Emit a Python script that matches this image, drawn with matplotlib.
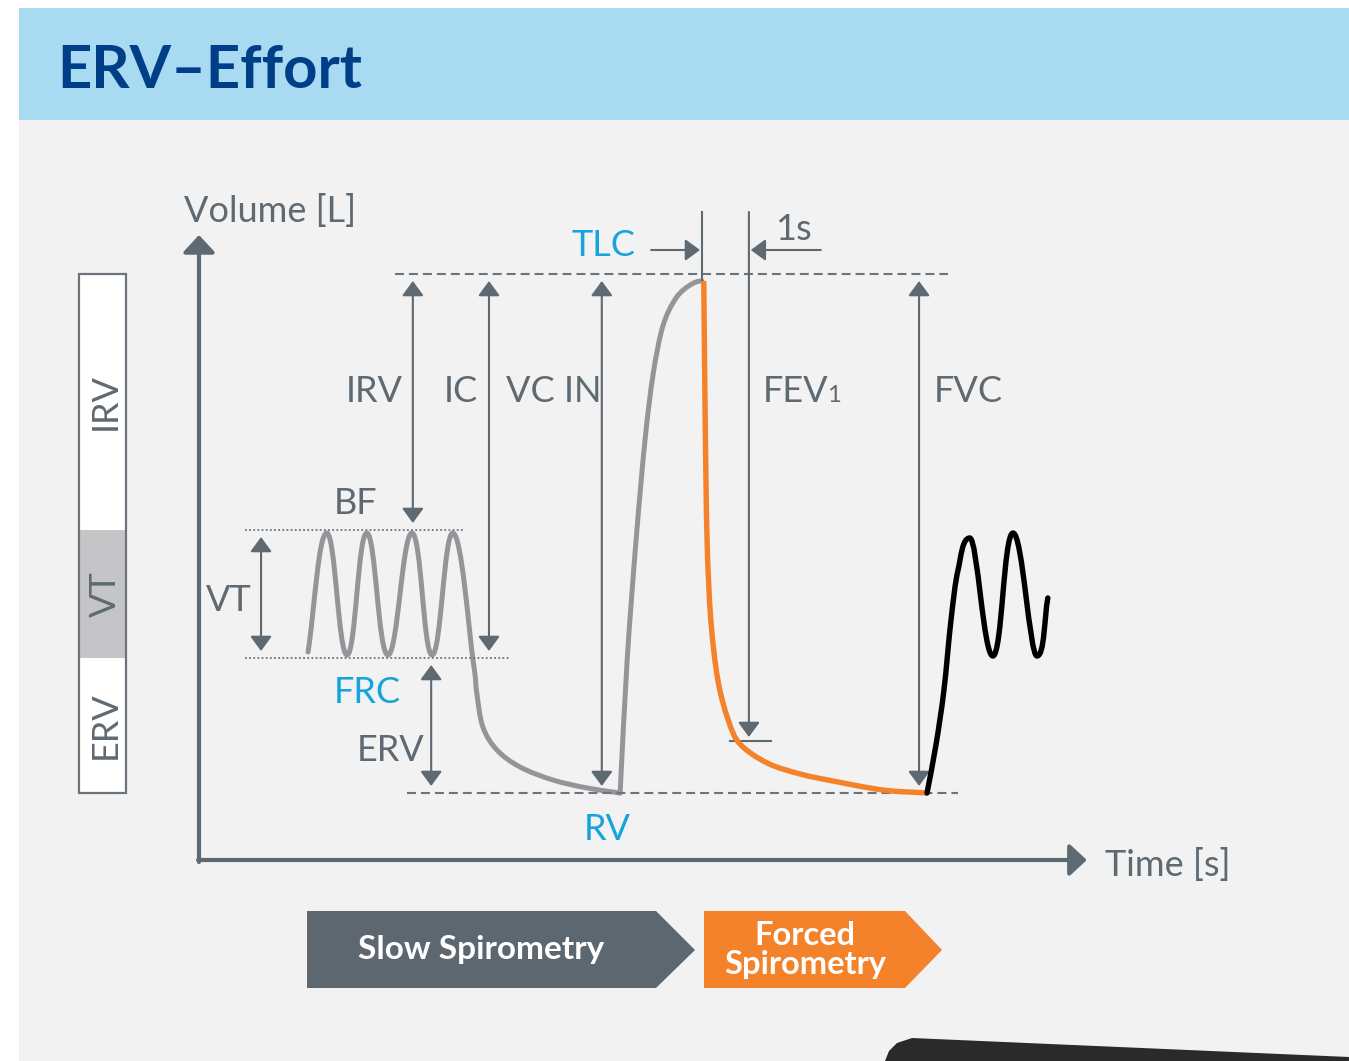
"""
ERV-Effort spirometry schematic.
Time axis in seconds (1 s = the TLC->FEV1 gap), volume axis in litres.
"""
import numpy as np
import matplotlib
matplotlib.use("Agg")
import matplotlib.pyplot as plt
from matplotlib.path import Path
from matplotlib.patches import PathPatch, Rectangle, Polygon

plt.rcParams["font.family"] = ["Lato", "DejaVu Sans"]

# ---- lung volume levels (L) ----
V_TLC = 5.86
V_VT_TOP = 3.30
V_FRC = 2.02
V_RV = 0.67

# ---- key moments (s) ----
T_TLC = 10.70
T_FEV1 = T_TLC + 1.0

# ---- slow spirometry: tidal breathing + slow full expiration (grey) ----
slow_exp_t = [2.32, 2.72, 3.15, 3.57, 4.02, 4.53, 4.96, 5.40,
              5.83, 5.91, 6.04, 6.34, 6.83, 7.53, 8.26, 8.96]
slow_exp_v = [2.08, 3.27, 2.05, 3.27, 2.05, 3.27, 2.05, 3.27,
              2.00, 1.67, 1.33, 1.10, 0.93, 0.80, 0.72, 0.67]

# ---- full inspiration up to TLC (grey) ----
insp_t = [8.96, 9.11, 9.30, 9.49, 9.66, 9.87, 10.15, 10.45, 10.70]
insp_v = [0.67, 2.00, 3.20, 4.20, 4.85, 5.34, 5.62, 5.75, 5.79]

# ---- forced expiration (orange) ----
forced_t = [10.74, 10.77, 10.81, 10.89, 11.04, 11.26, 11.51,
            12.09, 12.79, 13.49, 14.55, 15.49]
forced_v = [5.79, 4.40, 3.20, 2.40, 1.80, 1.40, 1.16,
            0.97, 0.86, 0.79, 0.70, 0.67]

# ---- recovery breathing (black) ----
recov_t = [15.49, 15.68, 15.85, 16.00, 16.15, 16.40, 16.89, 17.32, 17.83, 18.06]
recov_v = [0.67, 1.15, 1.70, 2.40, 2.90, 3.22, 2.04, 3.27, 2.04, 2.62]

FEV1_V = 1.19

GREY = "#5e6971"
CURVE_GREY = "#939598"
ORANGE = "#f4822a"
BLUE = "#17a3dc"
NAVY = "#003f88"

# pixel <-> data mapping: origin of the axes at (199, 860), 47 px per s, 100 px per L
W, H = 1349, 1061
X0, Y0, PX_S, PX_L = 199, 860, 47.0, 100.0


def smooth_path(t, v, flat_end=False):
    """Hermite spline through the nodes; local extremes get flat, rounded tangents."""
    p = np.column_stack([t, v]).astype(float)
    n = len(p)
    tan = np.zeros_like(p)
    for i in range(n):
        if i == 0:
            tan[i] = p[1] - p[0]
        elif i == n - 1:
            tan[i] = p[-1] - p[-2]
        else:
            tan[i] = (p[i + 1] - p[i - 1]) / 2
            if (p[i, 1] - p[i - 1, 1]) * (p[i + 1, 1] - p[i, 1]) < 0:
                tan[i, 1] = 0
                tan[i, 0] *= 1.3
    if flat_end:
        tan[-1, 1] = 0
    verts, codes = [p[0]], [Path.MOVETO]
    for i in range(n - 1):
        verts += [p[i] + tan[i] / 3, p[i + 1] - tan[i + 1] / 3, p[i + 1]]
        codes += [Path.CURVE4] * 3
    return Path(verts, codes)


fig = plt.figure(figsize=(W / 100, H / 100), dpi=100)
fig.patch.set_facecolor("white")

# background / layout layer in pixel coordinates
bg = fig.add_axes([0, 0, 1, 1], zorder=0)
bg.set_xlim(0, W)
bg.set_ylim(H, 0)
bg.axis("off")
bg.add_patch(Rectangle((19, 120), W - 19, H - 120, color="#f2f2f2", lw=0))
bg.add_patch(Rectangle((19, 8), W - 19, 112, color="#a8dbf2", lw=0))
bg.text(57, 88, "ERV\u2013Effort", fontsize=43, fontweight="bold", color=NAVY, va="baseline")

# phase arrows at the bottom
bg.add_patch(Polygon([(307, 911), (656, 911), (695, 950), (656, 988), (307, 988)],
                     closed=True, color="#5d6770", lw=0))
bg.add_patch(Polygon([(704, 911), (905, 911), (942, 950), (905, 988), (704, 988)],
                     closed=True, color=ORANGE, lw=0))
bg.text(481, 949, "Slow Spirometry", fontsize=24, fontweight="bold", color="white",
        ha="center", va="center")
bg.text(805, 950, "Forced\nSpirometry", fontsize=23.5, fontweight="bold", color="white",
        ha="center", va="center", linespacing=1.0)

# device edge peeking in at bottom right
bg.add_patch(Polygon([(885, 1061), (889, 1051), (897, 1043), (912, 1038), (1349, 1057), (1349, 1061)],
                     closed=True, color="#2a2a2a", lw=0))

# chart layer in data units
ax = fig.add_axes([0, 0, 1, 1], zorder=1)
ax.set_xlim(-X0 / PX_S, (W - X0) / PX_S)
ax.set_ylim((Y0 - H) / PX_L, Y0 / PX_L)
ax.patch.set_alpha(0)
ax.axis("off")

# volume bar on the left
bar_x, bar_w = -2.553, 1.0
ax.add_patch(Rectangle((bar_x, V_RV), bar_w, V_TLC - V_RV, facecolor="white", edgecolor="none"))
ax.add_patch(Rectangle((bar_x, V_FRC), bar_w, V_VT_TOP - V_FRC, facecolor="#c5c5c7", edgecolor="none"))
ax.add_patch(Rectangle((bar_x, V_RV), bar_w, V_TLC - V_RV, facecolor="none", edgecolor="#6b747c", lw=1.6))
for name, lo, hi in [("IRV", V_VT_TOP, V_TLC), ("VT", V_FRC, V_VT_TOP), ("ERV", V_RV, V_FRC)]:
    ax.text(bar_x + bar_w / 2 + 0.06, (lo + hi) / 2, name, rotation=90, fontsize=26,
            color=GREY, ha="center", va="center")

# coordinate axes
axis_style = dict(arrowstyle="-|>,head_length=0.7,head_width=0.65", mutation_scale=15,
                  color=GREY, lw=3, shrinkA=0, shrinkB=0)
ax.annotate("", xy=(0, 6.25), xytext=(0, -0.02), arrowprops=axis_style)
ax.annotate("", xy=(18.89, 0), xytext=(-0.02, 0), arrowprops=axis_style)

# reference levels
dash = dict(color="#6b747c", lw=1.5, dashes=(4.3, 2.4))
ax.plot([4.17, 15.94], [V_TLC, V_TLC], **dash)
ax.plot([4.43, 16.15], [V_RV, V_RV], **dash)
dot = dict(color="#6b747c", lw=1.3, dashes=(1.0, 1.3))
ax.plot([0.98, 5.66], [V_VT_TOP, V_VT_TOP], **dot)
ax.plot([0.98, 6.60], [V_FRC, V_FRC], **dot)

# dimension arrows
GAP = 0.07
dim = dict(arrowstyle="<|-|>,head_length=0.45,head_width=0.33", mutation_scale=20,
           color=GREY, lw=1.5, shrinkA=0, shrinkB=0)
one = dict(dim, arrowstyle="-|>,head_length=0.45,head_width=0.33")
for t, top, bot in [(4.55, V_TLC - GAP, V_VT_TOP + GAP),
                    (6.17, V_TLC - GAP, V_FRC + GAP),
                    (8.57, V_TLC - GAP, V_RV + GAP),
                    (1.32, V_VT_TOP - GAP, V_FRC + GAP),
                    (4.94, V_FRC - GAP, V_RV + GAP),
                    (15.32, V_TLC - GAP, V_RV + GAP)]:
    ax.annotate("", xy=(t, bot), xytext=(t, top), arrowprops=dim)

# FEV1 marker and the 1 s window
ax.annotate("", xy=(T_FEV1, FEV1_V + 0.04), xytext=(T_FEV1, 6.48), arrowprops=one)
ax.plot([T_FEV1 - 0.40, T_FEV1 + 0.47], [FEV1_V, FEV1_V], color=GREY, lw=1.5)
ax.plot([T_TLC, T_TLC], [6.48, 5.79], color=GREY, lw=1.5)
ax.annotate("", xy=(T_TLC - 0.04, 6.10), xytext=(9.62, 6.10), arrowprops=one)
ax.annotate("", xy=(T_FEV1 + 0.04, 6.10), xytext=(13.23, 6.10), arrowprops=one)

# curves
ax.add_patch(PathPatch(smooth_path(slow_exp_t, slow_exp_v), fill=False, edgecolor=CURVE_GREY,
                       lw=3.6, capstyle="round", joinstyle="round"))
ax.add_patch(PathPatch(smooth_path(insp_t, insp_v, flat_end=True), fill=False, edgecolor=CURVE_GREY,
                       lw=3.6, capstyle="round", joinstyle="round"))
ax.add_patch(PathPatch(smooth_path(forced_t, forced_v), fill=False, edgecolor=ORANGE,
                       lw=3.9, capstyle="butt", joinstyle="round", zorder=3))
ax.add_patch(PathPatch(smooth_path(recov_t, recov_v), fill=False, edgecolor="black",
                       lw=3.9, capstyle="round", joinstyle="round", zorder=4))

# labels (pixel positions, baseline aligned)
lab = dict(fontsize=26, color=GREY, va="baseline")
bg.text(184, 222, "Volume [L]", **lab)
bg.text(1105, 876, "Time [s]", **lab)
bg.text(403, 402, "IRV", ha="right", **lab)
bg.text(444, 402, "IC", **lab)
bg.text(506, 402, "VC IN", **lab)
bg.text(763, 402, "FEV", **lab)
bg.text(827, 402, "1", fontsize=17, color=GREY, va="baseline")
bg.text(934, 402, "FVC", **lab)
bg.text(334, 514, "BF", **lab)
bg.text(206, 611, "VT", **lab)
bg.text(357, 761, "ERV", **lab)
bg.text(775, 240, "1s", **lab)
blue = dict(lab, color=BLUE)
bg.text(572, 256, "TLC", **blue)
bg.text(334, 703, "FRC", **blue)
bg.text(584, 840, "RV", **blue)

fig.savefig("out.png", dpi=100)
